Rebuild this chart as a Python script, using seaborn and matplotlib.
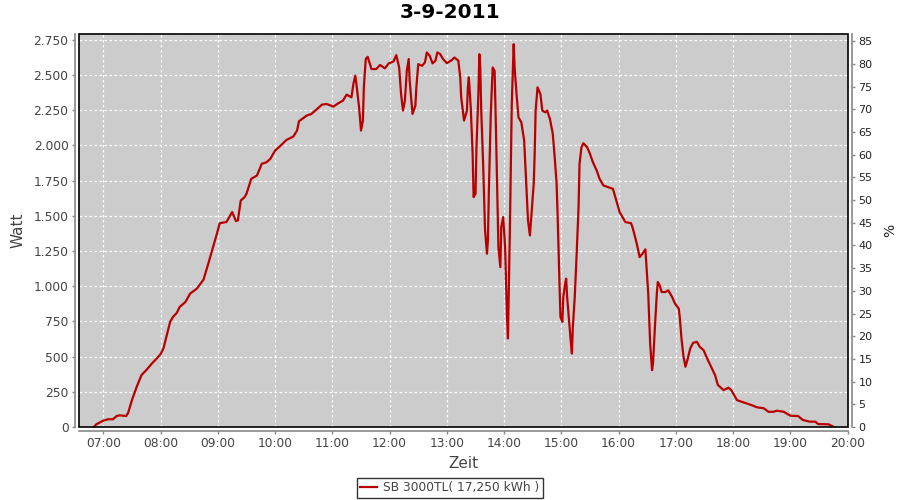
import pandas as pd
import matplotlib
matplotlib.use("Agg")
import matplotlib.pyplot as plt
import matplotlib.dates as mdates
from matplotlib.patches import Rectangle
from matplotlib.ticker import FuncFormatter, MultipleLocator
import seaborn as sns

# Values (time of day, watt)
times = [
    "06:50", "06:53", "07:00", "07:05", "07:10", "07:14", "07:17", "07:24", "07:26", "07:30",
    "07:35", "07:40", "07:45", "07:51", "07:56", "08:00", "08:03", "08:06", "08:10", "08:13",
    "08:17", "08:20", "08:26", "08:31", "08:38", "08:45", "08:50", "08:54", "08:59", "09:02",
    "09:09", "09:13", "09:15", "09:19", "09:21", "09:24", "09:28", "09:30", "09:35", "09:41",
    "09:46", "09:51", "09:55", "10:00", "10:05", "10:12", "10:19", "10:23", "10:25", "10:33",
    "10:38", "10:44", "10:49", "10:54", "11:01", "11:06", "11:11", "11:15", "11:20", "11:22",
    "11:24", "11:25", "11:28", "11:30", "11:32", "11:33", "11:35", "11:37", "11:41", "11:46",
    "11:50", "11:55", "11:59", "12:04", "12:07", "12:10", "12:12", "12:14", "12:16", "12:18",
    "12:20", "12:21", "12:24", "12:27", "12:28", "12:30", "12:34", "12:37", "12:39", "12:42",
    "12:45", "12:48", "12:50", "12:53", "12:56", "13:00", "13:05", "13:08", "13:12", "13:14",
    "13:15", "13:18", "13:21", "13:22", "13:23", "13:25", "13:27", "13:28", "13:30", "13:31",
    "13:33", "13:34", "13:35", "13:36", "13:38", "13:40", "13:42", "13:43", "13:44", "13:46",
    "13:48", "13:50", "13:51", "13:52", "13:53", "13:54", "13:56", "13:57", "13:59", "14:01",
    "14:03", "14:04", "14:06", "14:08", "14:10", "14:11", "14:13", "14:15", "14:18", "14:21",
    "14:23", "14:25", "14:27", "14:29", "14:31", "14:32", "14:33", "14:35", "14:38", "14:40",
    "14:43", "14:45", "14:48", "14:51", "14:53", "14:55", "14:56", "14:57", "14:58", "14:59",
    "15:01", "15:02", "15:04", "15:05", "15:06", "15:08", "15:10", "15:11", "15:12", "15:14",
    "15:16", "15:18", "15:19", "15:21", "15:23", "15:27", "15:30", "15:33", "15:37", "15:40",
    "15:44", "15:49", "15:54", "15:58", "16:01", "16:07", "16:13", "16:15", "16:19", "16:22",
    "16:25", "16:28", "16:29", "16:31", "16:33", "16:35", "16:36", "16:38", "16:40", "16:41",
    "16:43", "16:45", "16:49", "16:52", "16:56", "16:59", "17:03", "17:04", "17:06", "17:08",
    "17:10", "17:12", "17:15", "17:18", "17:22", "17:25", "17:29", "17:32", "17:36", "17:41",
    "17:44", "17:50", "17:55", "17:58", "18:04", "18:09", "18:14", "18:19", "18:25", "18:32",
    "18:37", "18:42", "18:46", "18:53", "19:00", "19:08", "19:13", "19:20", "19:26", "19:29",
    "19:40", "19:45",
]
watt = [
    0, 21, 45, 55, 55, 78, 83, 78, 101, 191,
    286, 369, 404, 452, 487, 518, 558, 640, 747, 782,
    811, 853, 888, 948, 983, 1047, 1161, 1255, 1373, 1448,
    1456, 1503, 1527, 1463, 1468, 1609, 1633, 1657, 1763, 1787,
    1870, 1881, 1905, 1964, 1994, 2040, 2063, 2106, 2172, 2212,
    2224, 2259, 2290, 2295, 2276, 2299, 2318, 2361, 2342, 2436,
    2496, 2448, 2271, 2106, 2177, 2413, 2614, 2630, 2543, 2543,
    2572, 2548, 2583, 2597, 2642, 2554, 2365, 2248, 2318, 2531,
    2614, 2460, 2224, 2283, 2413, 2578, 2566, 2590, 2661, 2637,
    2583, 2602, 2661, 2649, 2614, 2585, 2606, 2625, 2602, 2484,
    2342, 2177, 2248, 2413, 2484, 2271, 1940, 1633, 1657, 1987,
    2365, 2649, 2554, 2248, 1869, 1397, 1231, 1326, 1680, 2224,
    2554, 2531, 2248, 1916, 1586, 1278, 1136, 1420, 1491, 1278,
    782, 629, 1397, 2295, 2720, 2554, 2365, 2200, 2165, 2035,
    1751, 1468, 1361, 1539, 1727, 1940, 2248, 2413, 2365, 2248,
    2236, 2248, 2188, 2082, 1916, 1727, 1515, 1255, 1019, 782,
    747, 924, 1019, 1054, 924, 759, 593, 522, 711, 924,
    1231, 1563, 1869, 1987, 2016, 1987, 1940, 1881, 1822, 1763,
    1716, 1704, 1692, 1598, 1527, 1456, 1448, 1408, 1302, 1207,
    1231, 1262, 1161, 948, 593, 404, 452, 711, 948, 1030,
    1007, 959, 959, 971, 924, 877, 841, 782, 617, 498,
    428, 475, 558, 598, 605, 569, 546, 498, 440, 369,
    298, 262, 279, 262, 191, 179, 168, 156, 140, 133,
    108, 108, 116, 108, 80, 78, 50, 38, 38, 21,
    19, 2,
]
hour_ticks = ["07:00", "08:00", "09:00", "10:00", "11:00", "12:00", "13:00",
              "14:00", "15:00", "16:00", "17:00", "18:00", "19:00", "20:00"]
watt_ticks = list(range(0, 2751, 250))
pct_ticks = list(range(0, 86, 5))

day = "2011-09-03 "
df = pd.DataFrame({"Zeit": pd.to_datetime([day + t for t in times]), "Watt": watt})

text_col = "#444444"
axis_col = "#888888"
plot_bg = "#CCCCCC"
line_col = "#B80000"

plt.rcParams["font.family"] = ["DejaVu Sans"]

fig = plt.figure(figsize=(9, 5), dpi=100)
ax = fig.add_axes([79 / 900, 1 - 427 / 500, (848 - 79) / 900, (427 - 34) / 500])
ax.set_facecolor(plot_bg)

sns.lineplot(data=df, x="Zeit", y="Watt", ax=ax, color=line_col, linewidth=1.6,
             label="SB 3000TL( 17,250 kWh )")
ax.get_legend().remove()

ax.set_xlim(pd.Timestamp(day + "06:34:30"), pd.Timestamp(day + "20:00:20"))
ax.set_ylim(0, 2792)
ax.set_xticks(pd.to_datetime([day + t for t in hour_ticks]))
ax.xaxis.set_major_formatter(mdates.DateFormatter("%H:%M"))
ax.set_yticks(watt_ticks)
ax.yaxis.set_major_formatter(FuncFormatter(lambda v, p: f"{int(v):,}".replace(",", ".")))

ax.grid(True, color="white", linestyle=(0, (2, 2)), linewidth=0.9)
ax.set_axisbelow(True)

for s in ["top", "right"]:
    ax.spines[s].set_visible(False)
for s in ["left", "bottom"]:
    ax.spines[s].set_position(("outward", 3))
    ax.spines[s].set_color(axis_col)
    ax.spines[s].set_linewidth(1.2)
ax.tick_params(axis="both", colors=axis_col, labelcolor=text_col, labelsize=8.8,
               length=2.5, width=1, pad=2)

ax.set_xlabel("Zeit", fontsize=11, color=text_col, labelpad=4)
ax.set_ylabel("Watt", fontsize=11, color=text_col, labelpad=6)

# right-hand percent axis
ax2 = ax.twinx()
ax2.set_ylim(0, 86.6)
ax2.set_yticks(pct_ticks)
for s in ["top", "left", "bottom"]:
    ax2.spines[s].set_visible(False)
ax2.spines["right"].set_position(("outward", 3))
ax2.spines["right"].set_color(axis_col)
ax2.spines["right"].set_linewidth(1.2)
ax2.tick_params(axis="y", colors=axis_col, labelcolor="#222222", labelsize=8,
                length=2.5, width=1, pad=2)
ax2.set_ylabel("%", fontsize=10, color="#222222", labelpad=8)

# black plot frame
ax.add_patch(Rectangle((0, 0), 1, 1, transform=ax.transAxes, fill=False,
                       edgecolor="black", linewidth=1.2, clip_on=False, zorder=5))

fig.suptitle("3-9-2011", fontsize=14.5, fontweight="bold", y=1 - 13 / 500, va="center")

handles, labels = ax.get_legend_handles_labels()
leg = fig.legend(handles, labels, loc="center", bbox_to_anchor=(0.5, 1 - 488 / 500),
                 frameon=True, fancybox=False, fontsize=8.8, handlelength=1.4,
                 handletextpad=0.5, borderpad=0.25, labelcolor=text_col)
leg.get_frame().set_edgecolor("black")
leg.get_frame().set_linewidth(1.0)

fig.savefig("out.png", dpi=100)
